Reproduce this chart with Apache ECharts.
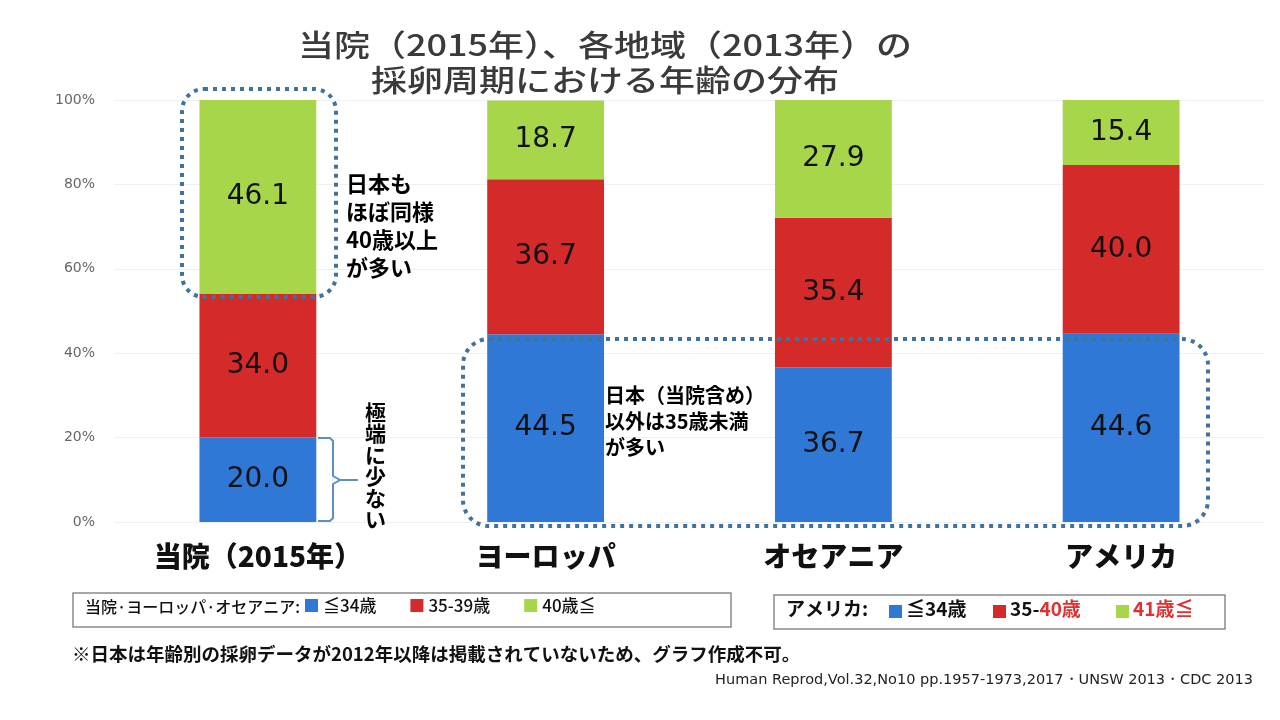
<!DOCTYPE html>
<html>
<head>
<meta charset="utf-8">
<script src="https://cdn.jsdelivr.net/npm/echarts@6/dist/echarts.min.js"></script>
<style>html,body{margin:0;padding:0;background:#fff;}#c{width:1280px;height:720px;}</style>
</head>
<body>
<div id="c"></div>
<script>
const categories = ['当院（2015年）', 'ヨーロッパ', 'オセアニア', 'アメリカ'];
const seriesNames = ['≦34歳', '35-39歳', '40歳≦'];
const young = [20.0, 44.5, 36.7, 44.6];
const middle = [34.0, 36.7, 35.4, 40.0];
const old = [46.1, 18.7, 27.9, 15.4];
const yTicks = [0, 20, 40, 60, 80, 100];

const FONT = '"Noto Sans CJK JP", "Noto Sans", sans-serif';
const colors = ['#2f78d6', '#d42a2a', '#a8d64a'];
const frame = '#41729f';

const chart = echarts.init(document.getElementById('c'));
const mk = (name, data, i) => ({
  name, type: 'bar', stack: 'all', data, barWidth: '40.6%',
  itemStyle: { color: colors[i] },
  label: { show: true, position: 'inside', color: '#111', fontSize: 28, fontFamily: '"DejaVu Sans", sans-serif',
    formatter: p => p.value.toFixed(1) },
  emphasis: { disabled: true }
});

chart.setOption({
  animation: false,
  textStyle: { fontFamily: FONT },
  grid: { left: 114, right: 15, top: 100, bottom: 198 },
  legend: {
    data: seriesNames, left: 300, top: 592, itemWidth: 13, itemHeight: 13, itemGap: 34,
    selectedMode: false, icon: 'rect',
    textStyle: { fontSize: 17, color: '#111', fontFamily: FONT, fontWeight: 500 }
  },
  xAxis: {
    type: 'category', data: categories,
    axisLine: { show: false }, axisTick: { show: false },
    axisLabel: { fontSize: 28, fontWeight: 900, color: '#111', margin: 20, fontFamily: FONT, interval: 0 }
  },
  yAxis: {
    type: 'value', min: 0, max: 100, interval: 20,
    axisLabel: { formatter: v => yTicks.includes(v) ? v + '%' : '', fontSize: 14, color: '#666', margin: 19, fontFamily: '"DejaVu Sans", sans-serif' },
    splitLine: { lineStyle: { color: '#f0f0f0' } },
    axisLine: { show: false }, axisTick: { show: false }
  },
  series: [mk(seriesNames[0], young, 0), mk(seriesNames[1], middle, 1), mk(seriesNames[2], old, 2)],
  graphic: [
    // title
    { type: 'text', x: 605, y: 27, scaleX: 1.2, z: 100,
      style: { text: '当院（2015年）、各地域（2013年）の\n採卵周期における年齢の分布', x: 0, y: 0,
        align: 'center', verticalAlign: 'top', font: '500 30px ' + FONT, lineHeight: 35, fill: '#3a3a3a' } },
    // dotted frames
    { type: 'rect', shape: { x: 182, y: 89, width: 154, height: 208, r: 22 }, z: 100,
      style: { fill: 'none', stroke: frame, lineWidth: 4, lineDash: [4, 5] } },
    { type: 'rect', shape: { x: 463, y: 339, width: 745, height: 187, r: 26 }, z: 100,
      style: { fill: 'none', stroke: frame, lineWidth: 4, lineDash: [4, 5] } },
    // annotation texts
    { type: 'text', left: 346, top: 170, z: 100,
      style: { text: '日本も\nほぼ同様\n40歳以上\nが多い', font: 'bold 22px ' + FONT, lineHeight: 28, fill: '#000' } },
    { type: 'text', left: 605, top: 382, z: 100,
      style: { text: '日本（当院含め）\n以外は35歳未満\nが多い', font: 'bold 20px ' + FONT, lineHeight: 26, fill: '#000' } },
    { type: 'text', left: 365, top: 401, z: 100,
      style: { text: '極\n端\nに\n少\nな\nい', font: 'bold 21px ' + FONT, lineHeight: 21.5, fill: '#000' } },
    // bracket
    { type: 'polyline', z: 100, shape: { points: [[318, 438], [330, 438], [333, 441], [333, 476], [340, 480], [333, 484], [333, 518], [330, 521], [318, 521]] },
      style: { stroke: '#5b8fc7', lineWidth: 2, fill: 'none' } },
    { type: 'line', z: 100, shape: { x1: 340, y1: 480, x2: 358, y2: 480 }, style: { stroke: '#5b8fc7', lineWidth: 2 } },
    // legend box 1
    { type: 'rect', shape: { x: 73, y: 593, width: 658, height: 34 }, style: { fill: 'none', stroke: '#8a8a8a', lineWidth: 1.5 } },
    { type: 'text', left: 85, top: 599, style: { text: '当院·ヨーロッパ·オセアニア:', font: '500 16px ' + FONT, fill: '#111' } },
    // legend box 2
    { type: 'rect', shape: { x: 774, y: 595, width: 451, height: 34 }, style: { fill: 'none', stroke: '#8a8a8a', lineWidth: 1.5 } },
    { type: 'text', left: 786, top: 599, style: { text: 'アメリカ:', font: 'bold 19px ' + FONT, fill: '#111' } },
    { type: 'rect', shape: { x: 889, y: 605, width: 13, height: 13 }, style: { fill: colors[0] } },
    { type: 'text', left: 906, top: 599, style: { text: '≦34歳', font: 'bold 19px ' + FONT, fill: '#111' } },
    { type: 'rect', shape: { x: 993, y: 605, width: 13, height: 13 }, style: { fill: colors[1] } },
    { type: 'text', left: 1010, top: 599, style: {
        text: '{k|35-}{r|40歳}', rich: { k: { font: 'bold 19px ' + FONT, fill: '#111' }, r: { font: 'bold 19px ' + FONT, fill: '#e03030' } } } },
    { type: 'rect', shape: { x: 1116, y: 605, width: 13, height: 13 }, style: { fill: colors[2] } },
    { type: 'text', left: 1133, top: 599, style: { text: '41歳≦', font: 'bold 19px ' + FONT, fill: '#e03030' } },
    // footnotes
    { type: 'text', left: 72, top: 645, style: { text: '※日本は年齢別の採卵データが2012年以降は掲載されていないため、グラフ作成不可。', font: 'bold 18.5px ' + FONT, fill: '#111' } },
    { type: 'text', right: 27, top: 673, style: { text: 'Human Reprod,Vol.32,No10 pp.1957-1973,2017・UNSW 2013・CDC 2013', font: '14.5px "DejaVu Sans", sans-serif', fill: '#222' } }
  ]
});
</script>
</body>
</html>
